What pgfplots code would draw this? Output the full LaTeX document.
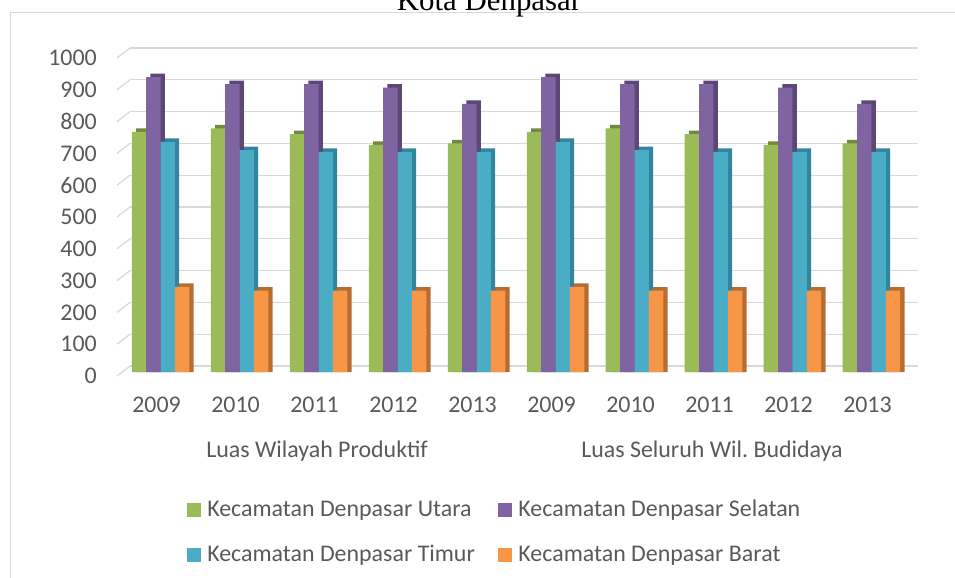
\documentclass[border=0pt]{standalone}
\usepackage{fontspec}
\setmainfont{Carlito}
\newfontfamily\titlefont{Liberation Serif}
\usepackage{pgfplots}
\usepackage{pgfplotstable}
\pgfplotsset{compat=1.18}
\definecolor{cG}{HTML}{9BBB59}
\definecolor{dG}{HTML}{71893F}
\definecolor{cP}{HTML}{8064A2}
\definecolor{dP}{HTML}{5C4776}
\definecolor{cB}{HTML}{4BACC6}
\definecolor{dB}{HTML}{31859C}
\definecolor{cO}{HTML}{F79646}
\definecolor{dO}{HTML}{B66D31}
\definecolor{gridc}{HTML}{D9D9D9}
\definecolor{txt}{HTML}{595959}
\pgfplotstableread{
x utara selatan timur barat
0 755 927 724 268
1 766 905 698 256
2 748 905 692 256
3 714 894 692 256
4 719 843 692 256
5 755 927 724 268
6 766 905 698 256
7 748 905 692 256
8 714 894 692 256
9 719 843 692 256
}\data
\begin{document}
\begin{tikzpicture}
\useasboundingbox (0,0) rectangle (955bp,-578bp);
\draw[gridc, line width=1bp] (10bp,-590bp) -- (10bp,-12.3bp) -- (970bp,-12.3bp);
\node[font=\titlefont\fontsize{31}{36}\selectfont, anchor=base] at (489bp,-10bp) {Kota Denpasar};
% back-wall grid
\begin{axis}[
  at={(130bp,-366bp)}, anchor=south west,
  scale only axis, width=788bp, height=318bp,
  xmin=0, xmax=788, ymin=0, ymax=1000, clip=false,
  axis line style={draw=none}, major tick length=0pt,
  ytick={0,100,...,1000}, ymajorgrids, grid style={gridc, line width=1.3bp},
  xtick=\empty, yticklabels={},
]
\addplot[gridc, line width=1.3bp, unbounded coords=jump] coordinates {
(-13,-31.4) (0,0) (nan,nan)
(-13,68.6) (0,100) (nan,nan)
(-13,168.6) (0,200) (nan,nan)
(-13,268.6) (0,300) (nan,nan)
(-13,368.6) (0,400) (nan,nan)
(-13,468.6) (0,500) (nan,nan)
(-13,568.6) (0,600) (nan,nan)
(-13,668.6) (0,700) (nan,nan)
(-13,768.6) (0,800) (nan,nan)
(-13,868.6) (0,900) (nan,nan)
(-13,968.6) (0,1000)
};
\end{axis}
\begin{axis}[
  at={(117bp,-372bp)}, anchor=south west,
  scale only axis, width=801bp, height=318bp,
  xmin=-0.551, xmax=9.589, ymin=0, ymax=1000,
  clip=false,
  axis line style={draw=none}, major tick length=0pt,
  ytick={0,100,...,1000},
  xtick={0,...,9},
  xticklabels={2009,2010,2011,2012,2013,2009,2010,2011,2012,2013},
  ticklabel style={font=\fontsize{24}{28}\selectfont, text=txt},
  /pgf/number format/assume math mode=true,
  /pgf/number format/1000 sep={},
  yticklabel style={anchor=east, inner sep=0pt, xshift=-20bp, yshift=-4bp},
  xticklabel style={anchor=base, inner sep=0pt, yshift=-40bp, xshift=-4bp},
  legend columns=2, legend cell align=left,
  legend style={at={(0.087,-0.404)}, anchor=north west, draw=none, fill=none,
    inner sep=0pt, outer sep=0pt, font=\fontsize{24}{28}\selectfont, text=txt,
    nodes={inner sep=0pt, text height=16bp, text depth=5bp},
    row sep=24bp,
    /tikz/every odd column/.append style={column sep=6.6bp},
    /tikz/every even column/.append style={column sep=23bp}},
  legend image code/.code={\fill[#1,/tikz/.cd] (0bp,-6bp) rectangle (14bp,8bp);},
]
\addplot[ybar, bar width=0.182, bar shift=-0.2186, fill=dG, draw=none, forget plot] table[x=x, y expr=\thisrow{utara}+11] {\data};
\addplot[ybar, bar width=0.182, bar shift=-0.273, fill=cG, draw=none] table[x=x, y=utara] {\data};
\addplot[ybar, bar width=0.182, bar shift=-0.0366, fill=dP, draw=none, forget plot] table[x=x, y expr=\thisrow{selatan}+11] {\data};
\addplot[ybar, bar width=0.182, bar shift=-0.091, fill=cP, draw=none] table[x=x, y=selatan] {\data};
\addplot[ybar, bar width=0.182, bar shift=0.1454, fill=dB, draw=none, forget plot] table[x=x, y expr=\thisrow{timur}+11] {\data};
\addplot[ybar, bar width=0.182, bar shift=0.091, fill=cB, draw=none] table[x=x, y=timur] {\data};
\addplot[ybar, bar width=0.182, bar shift=0.3274, fill=dO, draw=none, forget plot] table[x=x, y expr=\thisrow{barat}+11] {\data};
\addplot[ybar, bar width=0.182, bar shift=0.273, fill=cO, draw=none] table[x=x, y=barat] {\data};
\legend{Kecamatan Denpasar Utara, Kecamatan Denpasar Selatan, Kecamatan Denpasar Timur, Kecamatan Denpasar Barat}
\node[font=\fontsize{24}{28}\selectfont, text=txt, anchor=base] at (axis cs:2,0) [xshift=-1.5bp, yshift=-85bp] {Luas Wilayah Produktif};
\node[font=\fontsize{24}{28}\selectfont, text=txt, anchor=base] at (axis cs:7,0) [xshift=-1.5bp, yshift=-85bp] {Luas Seluruh Wil.\ Budidaya};
\end{axis}
\end{tikzpicture}
\end{document}
